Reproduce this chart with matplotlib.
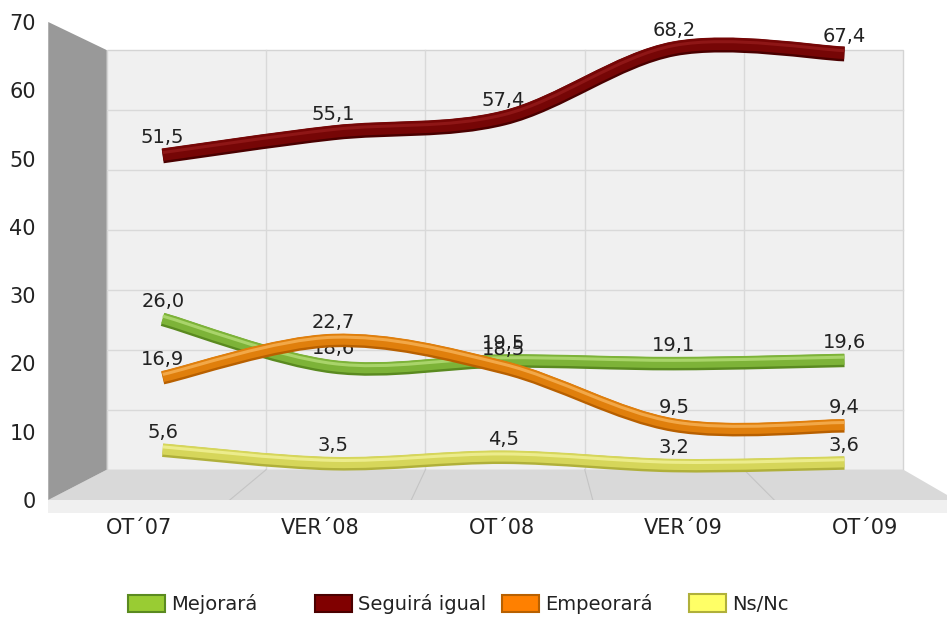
import numpy as np
import matplotlib
matplotlib.use('Agg')
import matplotlib.pyplot as plt
from matplotlib.path import Path
from matplotlib.patches import PathPatch, Polygon, Patch
import matplotlib.patheffects as pe

# --- Data ---
categories = ['OT´07', 'VER´08', 'OT´08', 'VER´09', 'OT´09']
mejorara = [26.0, 18.6, 19.5, 19.1, 19.6]
seguira_igual = [51.5, 55.1, 57.4, 68.2, 67.4]
empeorara = [16.9, 22.7, 18.5, 9.5, 9.4]
ns_nc = [5.6, 3.5, 4.5, 3.2, 3.6]
series_names = ['Mejorará', 'Seguirá igual', 'Empeorará', 'Ns/Nc']
y_ticks = [0, 10, 20, 30, 40, 50, 60, 70]

# colours: line body, dark edge, highlight, legend box, line width
styles = [
    ('#7db338', '#5a8a20', '#a9d46a', '#99cc33', 8),
    ('#760606', '#4a0000', '#8e1616', '#800000', 9),
    ('#e07f0c', '#b86000', '#f2a848', '#ff8000', 8),
    ('#d6d65a', '#b0b03a', '#ecec8c', '#ffff66', 8),
]

# --- 3D box projection (front axes data coords) ---
CX, CY = 2.14, 36.3      # vanishing point
S_BACK = 0.878           # back wall scale
S_MID = 0.939            # depth of the lines


def proj(x, v, s):
    x = np.asarray(x, dtype=float)
    v = np.asarray(v, dtype=float)
    return CX + s * (x - CX), CY + s * (v - CY)


def smooth_path(xs, ys):
    # Catmull-Rom through the points, as cubic beziers
    pts = np.column_stack([xs, ys])
    n = len(pts)
    verts = [pts[0]]
    codes = [Path.MOVETO]
    for k in range(n - 1):
        p0 = pts[max(k - 1, 0)]
        p1 = pts[k]
        p2 = pts[k + 1]
        p3 = pts[min(k + 2, n - 1)]
        verts += [p1 + (p2 - p0) / 6, p2 - (p3 - p1) / 6, p2]
        codes += [Path.CURVE4] * 3
    return Path(verts, codes)


fig = plt.figure(figsize=(9.47, 6.22), dpi=100)
ax = fig.add_axes([48.25 / 947, 122 / 622, 907.5 / 947, 478 / 622])
ax.set_xlim(-0.5, 4.5)
ax.set_ylim(0, 70)
ax.patch.set_visible(False)
for sp in ax.spines.values():
    sp.set_visible(False)

xi = np.arange(len(categories))
x0, x1 = -0.5, len(categories) - 0.5

# back wall
bx, by = proj([x0, x1, x1, x0], [0, 0, 70, 70], S_BACK)
ax.add_patch(Polygon(np.column_stack([bx, by]), closed=True, fc='#f0f0f0',
                     ec='#d4d4d4', lw=1, zorder=0))
for v in y_ticks[1:-1]:
    gx, gy = proj([x0, x1], [v, v], S_BACK)
    ax.plot(gx, gy, color='#d9d9d9', lw=1, zorder=0.5)
for x in xi[:-1] + 0.5:
    gx, gy = proj([x, x], [0, 70], S_BACK)
    ax.plot(gx, gy, color='#d9d9d9', lw=1, zorder=0.5)

# floor
fx_b, fy_b = proj([x1, x0], [0, 0], S_BACK)
floor = np.array([[x0, 0], [x1, 0], [fx_b[0], fy_b[0]], [fx_b[1], fy_b[1]]])
ax.add_patch(Polygon(floor, closed=True, fc='#d9d9d9', ec='none', zorder=0.6))
for x in xi[:-1] + 0.5:
    gx, gy = proj(x, 0, S_BACK)
    ax.plot([x, gx], [0, gy], color='#c4c4c4', lw=0.8, zorder=0.7)
ax.add_patch(Polygon([[x0, 0], [x1, 0], [x1, -1.9], [x0, -1.9]], closed=True,
                     fc='#f0f0f0', ec='none', zorder=0.6, clip_on=False))

# left wall
lx, ly = proj([x0, x0], [70, 0], S_BACK)
wall = np.array([[x0, 0], [x0, 70], [lx[0], ly[0]], [lx[1], ly[1]]])
ax.add_patch(Polygon(wall, closed=True, fc='#999999', ec='none', zorder=0.8))

# --- series ---
all_series = [mejorara, seguira_igual, empeorara, ns_nc]
for k, (vals, st) in enumerate(zip(all_series, styles)):
    main, dark, light, _, lw = st
    px, py = proj(xi, vals, S_MID)
    z = 2 + k
    patch = PathPatch(smooth_path(px, py), fill=False, ec=main, lw=lw,
                      capstyle='butt', zorder=z,
                      path_effects=[
                          pe.Stroke(linewidth=lw + 1.5, foreground=dark, offset=(0, -1)),
                          pe.Normal(),
                          pe.Stroke(linewidth=2.2, foreground=light, offset=(0, 1.5)),
                      ])
    ax.add_patch(patch)
    # value labels sit under the later series' lines, as in the original
    for x, y, v in zip(px, py, vals):
        ax.annotate(f'{v:.1f}'.replace('.', ','), (x, y), xytext=(0, 12),
                    textcoords='offset points', ha='center', va='center',
                    fontsize=14, color='#222222', zorder=z - 0.5)

# --- axes ticks ---
ax.set_xticks(xi)
ax.set_xticklabels(categories, fontsize=15, color='#222222')
ax.set_yticks(y_ticks)
ax.set_yticklabels([str(t) for t in y_ticks], fontsize=15, color='#222222')
ax.tick_params(axis='x', length=0, pad=13)
ax.tick_params(axis='y', length=0, pad=9)

# --- legend (fixed column pitch) ---
for k, (name, st) in enumerate(zip(series_names, styles)):
    handle = Patch(facecolor=st[3], edgecolor=st[1], linewidth=1.5)
    fig.legend(handles=[handle], labels=[name], loc='center left',
               bbox_to_anchor=((128 + 187 * k) / 947, 1 - 604 / 622),
               frameon=False, fontsize=14, borderpad=0, borderaxespad=0,
               handlelength=1.9, handleheight=1.0, handletextpad=0.3,
               labelcolor='#222222')

fig.savefig('out.png', dpi=100, facecolor='white')
